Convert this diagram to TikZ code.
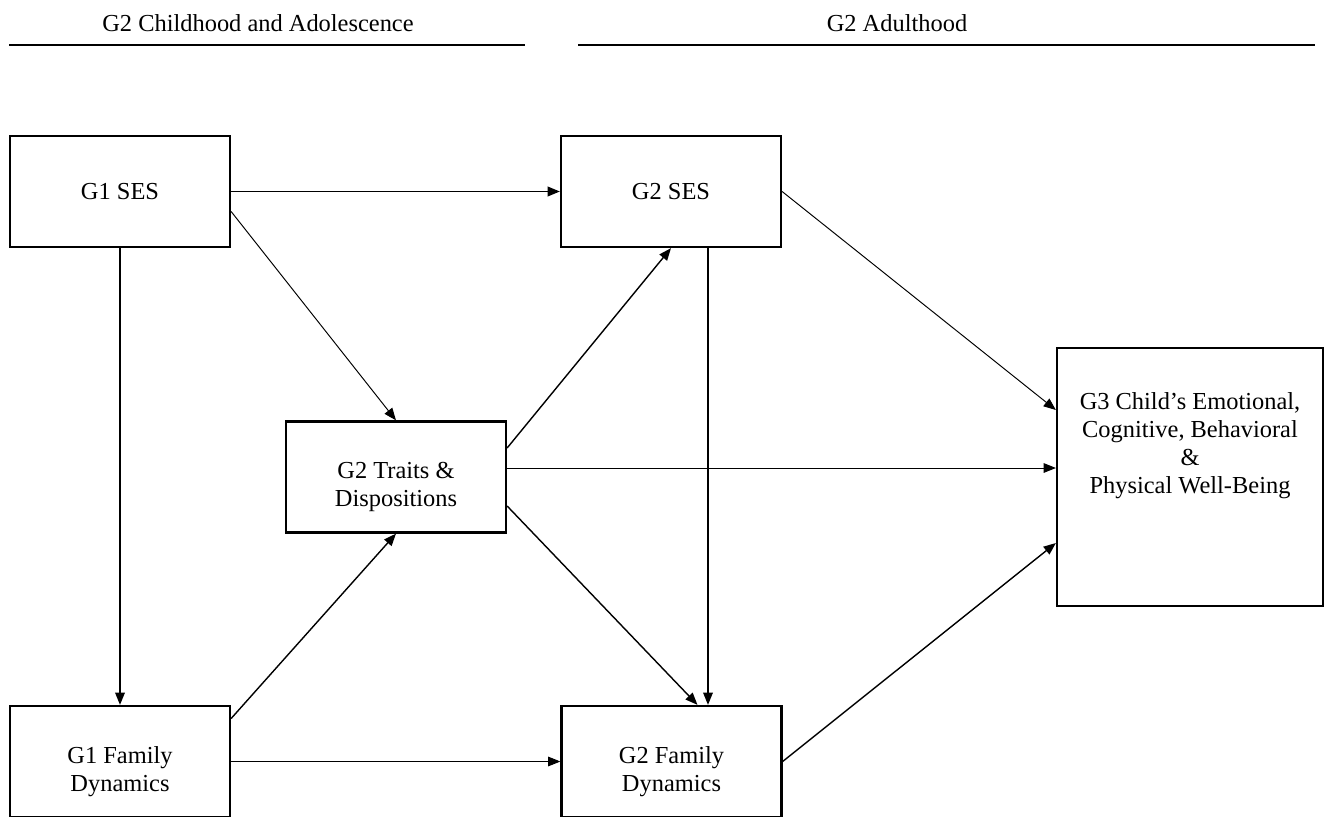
\documentclass[tikz,border=0pt]{standalone}
\usepackage{fontspec}
\setmainfont{Liberation Serif}
\usepackage{tikz}
\usetikzlibrary{arrows.meta,positioning}
\newcommand\lowtext[1]{\raisebox{-0.2cm}[\height][\depth]{\begin{tabular}{@{}c@{}}#1\end{tabular}}}

\begin{document}
\begin{tikzpicture}[x=0.02cm,y=-0.02cm,
  every node/.style={font=\fontsize{13.9}{16}\selectfont},
  box/.style={draw,line width=1.3pt,minimum width=4.4cm,minimum height=2.22cm,align=center,inner sep=0pt},
  arr/.style={line width=0.8pt,-{Triangle[length=7pt,width=5.5pt]}},
  thickarr/.style={arr,line width=1pt},
  thinarr/.style={arr,line width=0.55pt}]
  \useasboundingbox (0,0) rectangle (1325,817);
  % period headers
  \node (childhood) at (258,23) {G2 Childhood and Adolescence};
  \node (adulthood) at (897,23) {G2 Adulthood};
  \draw[line width=1.2pt] (9,45) -- (525,45);
  \draw[line width=1.2pt] (578,45) -- (1315,45);
  % boxes
  \node[box] (g1ses) at (120,191.5) {G1 SES};
  \node[box] (g2ses) at (671,191.5) {G2 SES};
  \node[box] (traits) at (396,477) {\lowtext{G2 Traits \&\\Dispositions}};
  \node[box] (g1fam) at (120,761.5) {\lowtext{G1 Family\\Dynamics}};
  \node[box] (g2fam) at (671.5,761.5) {\lowtext{G2 Family\\Dynamics}};
  \node[box,minimum width=5.32cm,minimum height=5.16cm] (g3) at (1190,477)
    {\parbox[c][3.38cm][t]{5.2cm}{\centering G3 Child's Emotional,\\Cognitive, Behavioral\\\&\\Physical Well-Being}};
  % paths
  \draw[thickarr] (g1ses.east) -- (g2ses.west);
  \draw[thinarr] ([yshift=-0.4cm]g1ses.east) -- (traits.north);
  \draw[arr] (g1ses.south) -- (g1fam.north);
  \draw[arr] ([yshift=0.86cm]g1fam.east) -- (traits.south);
  \draw[thinarr] (g1fam.east) -- (g2fam.west);
  \draw[arr] ([yshift=0.58cm]traits.east) -- (g2ses.south);
  \draw[thinarr] ([yshift=0.18cm]traits.east) -- ([yshift=0.18cm]traits.east -| g3.west);
  \draw[arr] ([yshift=-0.58cm]traits.east) -- ([xshift=0.52cm]g2fam.north);
  \draw[arr] ([xshift=0.74cm]g2ses.south) -- ([xshift=0.74cm]g2ses.south |- g2fam.north);
  \draw[thinarr] (g2ses.east) -- ([yshift=1.34cm]g3.west);
  \draw[arr] (g2fam.east) -- ([yshift=-1.32cm]g3.west);
\end{tikzpicture}
\end{document}
